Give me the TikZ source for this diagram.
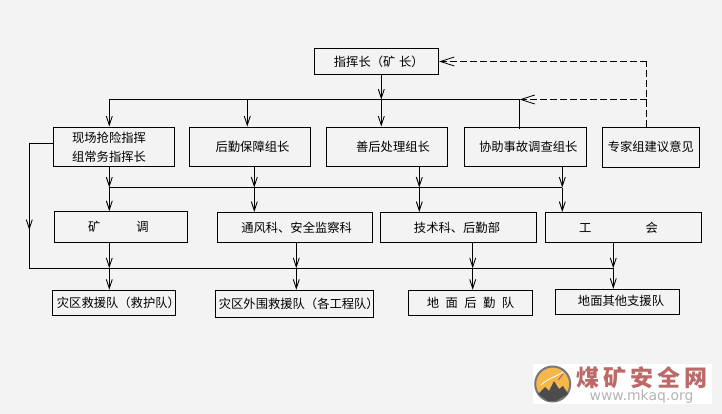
\documentclass[tikz,border=0pt]{standalone}
\usepackage{fontspec}
\setmainfont{Noto Sans CJK SC}
\newfontfamily\urlfont{DejaVu Sans}
\usetikzlibrary{arrows.meta}
\definecolor{pagegray}{HTML}{F3F3F3}
\definecolor{logored}{HTML}{BC6A68}
\definecolor{urlgray}{HTML}{B4B4B4}
\definecolor{logoring}{HTML}{77777F}
\definecolor{logosun}{HTML}{F4B84A}
\tikzset{
    box/.style={draw, line width=1pt, inner sep=0pt, align=center, font=\fontsize{12.3}{19}\selectfont},
    flow/.style={line width=1pt, -{Straight Barb[length=9pt,width=6pt,line width=0.9pt]}},
    plainline/.style={line width=1pt},
    advice/.style={line width=1pt, dash pattern=on 7pt off 3pt},
}
\begin{document}
\begin{tikzpicture}[x=1pt, y=-1pt]
    % page
    \fill[pagegray] (0,0) rectangle (722,414);
    \useasboundingbox (0,0) rectangle (722,414);
    % top box
    \node[box, minimum width=124.5pt, minimum height=26pt] (mine) at (376.3,62) {\hspace*{5pt}指挥长（矿\hspace{0.3em}长）};
    % first row
    \node[box, minimum width=121pt, minimum height=39.5pt] (rescue) at (114,146.8) {现场抢险指挥\hspace*{10pt}\\组常务指挥长\hspace*{10pt}};
    \node[box, minimum width=121pt, minimum height=39.5pt] (logistics) at (250,146.8) {\hspace*{5pt}后勤保障组长};
    \node[box, minimum width=121pt, minimum height=39.5pt] (aftermath) at (387,146.8) {\hspace*{12pt}善后处理组长};
    \node[box, minimum width=121.5pt, minimum height=39.5pt] (inquiry) at (525.7,146.8) {\hspace*{5pt}协助事故调查组长};
    \node[box, minimum width=97.5pt, minimum height=40.5pt] (expert) at (650.8,147.3) {专家组建议意见};
    % second row
    \node[box, minimum width=133.5pt, minimum height=30.5pt] (dispatch) at (120.8,227) {矿\hspace{36pt}调\hspace*{5pt}};
    \node[box, minimum width=155.2pt, minimum height=30pt] (vent) at (295.1,227.5) {\hspace*{3pt}通风科、安全监察科};
    \node[box, minimum width=156.4pt, minimum height=30pt] (tech) at (458.5,227.5) {技术科、后勤部\hspace*{3pt}};
    \node[box, minimum width=156.4pt, minimum height=30pt] (union) at (623.5,227.5) {工\hspace{54pt}会\hspace*{10pt}};
    % third row
    \node[box, minimum width=123.2pt, minimum height=25pt] (teamA) at (113.9,302.8) {\hspace*{9pt}\makebox[0pt]{灾区救援队（救护队）}};
    \node[box, minimum width=158pt, minimum height=27pt] (teamB) at (294.3,303.8) {\hspace*{9pt}\makebox[0pt]{灾区外围救援队（各工程队）}};
    \node[box, minimum width=124.4pt, minimum height=25pt] (teamC) at (470.5,302.8) {地\hspace{6.5pt}面\hspace{6.5pt}后\hspace{6.5pt}勤\hspace{6.5pt}队};
    \node[box, minimum width=124.4pt, minimum height=25pt, text depth=2pt] (teamD) at (617.5,301.8) {\hspace*{7pt}地面其他支援队};
    % junctions on the three buses
    \coordinate (busLeft) at (109.3,99.5);
    \coordinate (busB) at (247.3,99.5);
    \coordinate (busMid) at (381.3,99.5);
    \coordinate (busRight) at (519.5,99.5);
    \coordinate (busExpert) at (646.5,99.5);
    \coordinate (upExpert) at (646.5,61.5);
    \coordinate (midA) at (109.3,187.5);
    \coordinate (midB) at (254.3,187.5);
    \coordinate (midC) at (419.3,187.5);
    \coordinate (midD) at (562.3,187.5);
    \coordinate (lowSide) at (29.3,268.3);
    \coordinate (lowA) at (109.3,268.3);
    \coordinate (lowB) at (296.3,268.3);
    \coordinate (lowC) at (472.7,268.3);
    \coordinate (lowD) at (613.3,268.3);
    \coordinate (sideTurn) at (29.3,144);
    \coordinate (sideMid) at (29.3,230);
    % from the top box
    \draw[flow] (mine.south -| busMid) -- (busMid);
    \draw[plainline] (busLeft) -- (busRight);
    \draw[flow] (busLeft) -- (busLeft |- rescue.north);
    \draw[flow] (busB) -- (busB |- logistics.north);
    \draw[flow] (busMid) -- (busMid |- aftermath.north);
    \draw[plainline] (busRight) -- ([yshift=-2pt]busRight |- inquiry.north);
    % expert advice
    \draw[advice] (expert.north -| upExpert) -- (upExpert);
    \draw[advice, -{Straight Barb[length=14pt,width=9pt,line width=0.8pt]}] (upExpert) -- (upExpert -| mine.east);
    \draw[advice, -{Straight Barb[length=14pt,width=9pt,line width=0.8pt]}] (busExpert) -- (busRight);
    % first row to second row
    \draw[plainline] (midA) -- (midD);
    \draw[flow] (rescue.south -| midA) -- (midA);
    \draw[flow] (logistics.south -| midB) -- (midB);
    \draw[flow] (aftermath.south -| midC) -- (midC);
    \draw[flow] (inquiry.south -| midD) -- (midD);
    \draw[flow] (midA) -- (midA |- dispatch.north);
    \draw[flow] (midB) -- (midB |- vent.north);
    \draw[flow] (midC) -- (midC |- tech.north);
    \draw[flow] (midD) -- (midD |- union.north);
    % side line
    \draw[plainline] (rescue.west |- sideTurn) -- (sideTurn) -- (lowSide) -- (lowD);
    \draw[flow] (sideTurn) -- (sideMid);
    % second row to third row
    \draw[flow] (dispatch.south -| lowA) -- (lowA);
    \draw[flow] (vent.south -| lowB) -- (lowB);
    \draw[flow] (tech.south -| lowC) -- (lowC);
    \draw[flow] (union.south -| lowD) -- (lowD);
    \draw[flow] (lowA) -- (lowA |- teamA.north);
    \draw[flow] (lowB) -- (lowB |- teamB.north);
    \draw[flow] (lowC) -- (lowC |- teamC.north);
    \draw[flow] (lowD) -- (lowD |- teamD.north);
    % watermark
    \fill[white] (532.7,364) rectangle (711.7,404);
    \fill[logosun, draw=logoring, line width=2pt] (552.7,384) circle (17.5pt);
    \draw[white, line width=0.8pt] (541,385) .. controls (548,378) and (556,377) .. (563,372);
    \draw[logored, line width=1.2pt] (558,380) -- (563,374);
    \fill[black!70] (538,394) -- (545,387) -- (549,391) -- (554,381) -- (559,389) -- (563,386) -- (568,394) -- (556,401) -- (548,401) -- cycle;
    \node[font=\fontsize{23}{23}\selectfont\bfseries, text=logored, inner sep=0pt] (logotext) at (642,378) {煤\hspace{4pt}矿\hspace{4pt}安\hspace{4pt}全\hspace{4pt}网};
    \node[font=\fontsize{14}{14}\urlfont, text=urlgray, inner sep=0pt] (logourl) at (641.5,397) {www.mkaq.org};
\end{tikzpicture}
\end{document}
